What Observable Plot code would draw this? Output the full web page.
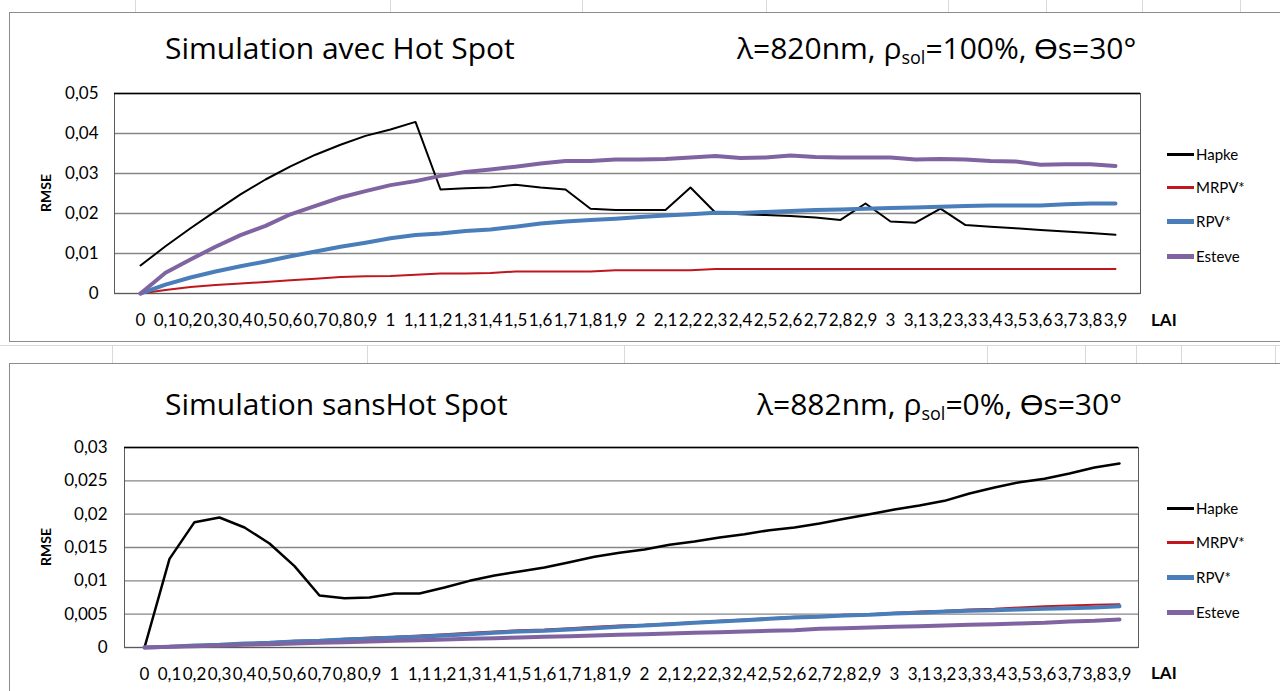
<!DOCTYPE html>
<html><head><meta charset="utf-8">
<script src="https://cdn.jsdelivr.net/npm/d3@7"></script>
<script src="https://cdn.jsdelivr.net/npm/@observablehq/plot@0.6"></script>
<style>
body{margin:0;background:#fff;font-family:Lato,"Open Sans",sans-serif;}
#root{position:relative;width:1280px;height:691px;overflow:hidden;background:#fff;}
.panel{position:absolute;border:1px solid #8c8c8c;}
.gl{position:absolute;background:#d9d9d9;}
.title{position:absolute;font-family:"Open Sans",sans-serif;font-size:30px;color:#000;white-space:nowrap;line-height:1;transform:translateY(-50%);}
.title sub{font-size:60%;vertical-align:-0.25em;line-height:0;}
.ylab{position:absolute;font-weight:bold;font-size:14px;white-space:nowrap;transform:translate(-50%,-50%) rotate(-90deg);}
.lai{position:absolute;font-weight:bold;font-size:17px;transform:translateY(-50%);}
.leg{position:absolute;font-size:15px;display:flex;align-items:center;transform:translateY(-50%);white-space:nowrap;}
.leg span.sw{display:inline-block;width:27px;margin-right:2px;}
</style></head><body><div id="root"></div>
<script>
// ---- categories (LAI tick labels)
const lai = ["0","0,1","0,2","0,3","0,4","0,5","0,6","0,7","0,8","0,9",
             "1","1,1","1,2","1,3","1,4","1,5","1,6","1,7","1,8","1,9",
             "2","2,1","2,2","2,3","2,4","2,5","2,6","2,7","2,8","2,9",
             "3","3,1","3,2","3,3","3,4","3,5","3,6","3,7","3,8","3,9"];
const models = ["Hapke","MRPV*","RPV*","Esteve"];
const colors = ["#000000","#c0161e","#4a7ebb","#8064a2"];

// ---- panel 1 : Simulation avec Hot Spot
const hapke1 = [0.0070,0.0118,0.0163,0.0206,0.0248,0.0285,0.0318,0.0347,0.0372,0.0394,
                0.0410,0.0429,0.0260,0.0263,0.0265,0.0272,0.0265,0.0260,0.0212,0.0209,
                0.0209,0.0209,0.0265,0.0202,0.0198,0.0196,0.0194,0.0190,0.0184,0.0225,
                0.0180,0.0177,0.0212,0.0171,0.0167,0.0163,0.0159,0.0155,0.0151,0.0147];
const mrpv1  = [0,0.0009,0.0016,0.0021,0.0025,0.0029,0.0033,0.0037,0.0041,0.0043,
                0.0044,0.0047,0.0050,0.0050,0.0051,0.0055,0.0055,0.0055,0.0055,0.0058,
                0.0058,0.0058,0.0058,0.0061,0.0061,0.0061,0.0061,0.0061,0.0061,0.0061,
                0.0061,0.0061,0.0061,0.0061,0.0061,0.0061,0.0061,0.0061,0.0061,0.0061];
const rpv1   = [0,0.0022,0.0040,0.0055,0.0068,0.0080,0.0093,0.0105,0.0117,0.0127,
                0.0138,0.0146,0.0150,0.0156,0.0160,0.0167,0.0175,0.0180,0.0184,0.0187,
                0.0191,0.0195,0.0198,0.0202,0.0201,0.0204,0.0206,0.0209,0.0210,0.0212,
                0.0214,0.0215,0.0217,0.0219,0.0220,0.0220,0.0220,0.0223,0.0225,0.0225];
const esteve1= [0,0.0052,0.0085,0.0117,0.0146,0.0169,0.0198,0.0219,0.0240,0.0256,
                0.0271,0.0281,0.0294,0.0304,0.0310,0.0317,0.0325,0.0331,0.0331,0.0335,
                0.0335,0.0336,0.0340,0.0344,0.0339,0.0340,0.0345,0.0341,0.0340,0.0340,
                0.0340,0.0335,0.0336,0.0335,0.0331,0.0330,0.0322,0.0323,0.0323,0.0319];
const yTicks1 = [0,0.01,0.02,0.03,0.04,0.05];

// ---- panel 2 : Simulation sans Hot Spot
const hapke2 = [0,0.0133,0.0188,0.0195,0.0180,0.0156,0.0122,0.0078,0.0074,0.0075,
                0.0081,0.0081,0.0090,0.0100,0.0108,0.0114,0.0120,0.0128,0.0136,0.0142,
                0.0147,0.0154,0.0159,0.0165,0.0170,0.0176,0.0180,0.0186,0.0193,0.0200,
                0.0207,0.0213,0.0220,0.0231,0.0240,0.0248,0.0253,0.0261,0.0270,0.0276];
const mrpv2  = [0,0.0002,0.0003,0.0005,0.0006,0.0008,0.0010,0.0011,0.0013,0.0015,
                0.0016,0.0018,0.0020,0.0022,0.0024,0.0026,0.0027,0.0029,0.0031,0.0033,
                0.0034,0.0036,0.0038,0.0040,0.0042,0.0044,0.0046,0.0047,0.0049,0.0050,
                0.0052,0.0054,0.0055,0.0057,0.0058,0.0060,0.0062,0.0063,0.0064,0.0065];
const rpv2   = [0,0.0001,0.0003,0.0004,0.0006,0.0007,0.0009,0.0010,0.0012,0.0013,
                0.0015,0.0016,0.0018,0.0020,0.0022,0.0024,0.0025,0.0027,0.0029,0.0031,
                0.0033,0.0035,0.0037,0.0039,0.0041,0.0043,0.0045,0.0046,0.0048,0.0049,
                0.0051,0.0052,0.0054,0.0055,0.0056,0.0057,0.0058,0.0059,0.0060,0.0062];
const esteve2= [0,0.0001,0.0002,0.0003,0.0004,0.0005,0.0006,0.0007,0.0008,0.0009,
                0.0010,0.0011,0.0012,0.0013,0.0014,0.0015,0.0016,0.0017,0.0018,0.0019,
                0.0020,0.0021,0.0022,0.0023,0.0024,0.0025,0.0026,0.0028,0.0029,0.0030,
                0.0031,0.0032,0.0033,0.0034,0.0035,0.0036,0.0037,0.0039,0.0040,0.0042];
const yTicks2 = [0,0.005,0.01,0.015,0.02,0.025,0.03];

const root = document.getElementById("root");
function el(cls, css, html){const d=document.createElement("div"); d.className=cls; Object.assign(d.style, css); if(html!=null) d.innerHTML=html; root.appendChild(d); return d;}

// faint spreadsheet grid + chart frames
[135,390,582,766,948,1046,1142,1240].forEach(x=>el("gl",{left:x+"px",top:"0px",width:"1px",height:"12px"}));
[112,367,624,987,1085,1136,1181,1275].forEach(x=>el("gl",{left:x+"px",top:"346px",width:"1px",height:"17px"}));
el("gl",{left:"0px",top:"345px",width:"1280px",height:"1px"});
el("panel",{left:"9px",top:"12px",width:"1290px",height:"328px"});
el("panel",{left:"9px",top:"363px",width:"1290px",height:"340px"});

const fmt = d => d===0 ? "0" : String(+d.toFixed(3)).replace(".", ",");

function panel(cfg){
  const series=[cfg.hapke,cfg.mrpv,cfg.rpv,cfg.esteve];
  const data = models.flatMap((m,k)=> series[k].map((v,i)=>({lai:lai[i], v, model:m})));
  const svg = Plot.plot({
    width:1280, height:cfg.h,
    marginLeft:cfg.ml, marginRight:1280-cfg.xr, marginTop:cfg.mt, marginBottom:cfg.mb,
    style:{fontFamily:"Lato, 'Open Sans', sans-serif", fontSize:"17px", color:"#000", background:"transparent", overflow:"visible"},
    x:{type:"point", domain:lai, padding:0.5, label:null},
    y:{domain:[0,cfg.ymax], label:null},
    marks:[
      Plot.ruleY(cfg.yticks, {stroke:"#868686", strokeWidth:1.3}),
      Plot.frame({stroke:"#5a5a5a"}),
      Plot.ruleY([cfg.ymax], {stroke:"#000", strokeWidth:1.5}),
      Plot.axisY({ticks:cfg.yticks, tickFormat:fmt, tickSize:0, tickPadding:cfg.ypad, fontSize:17, label:null}),
      Plot.axisX({tickSize:0, tickPadding:cfg.xpad, fontSize:17, label:null}),
      ...models.map((m,k)=> Plot.lineY(data.filter(d=>d.model===m),
          {x:"lai", y:"v", stroke:colors[k], strokeWidth:cfg.widths[k], strokeLinejoin:"round", strokeLinecap:"round"}))
    ]
  });
  svg.style.position="absolute"; svg.style.left="0px"; svg.style.top=cfg.top+"px";
  root.appendChild(svg);

  el("title",{left:"165px",top:cfg.ty+"px"}, cfg.title);
  el("title",{left:cfg.rx+"px",top:cfg.ty+"px"}, cfg.rtitle);
  el("ylab",{left:"45px",top:cfg.ylabY+"px"}, "RMSE");
  el("lai",{left:"1151px",top:cfg.laiY+"px"}, "LAI");
  models.forEach((m,k)=>{
    el("leg",{left:"1167px",top:cfg.legY[k]+"px"},
      `<span class="sw" style="height:${cfg.legW[k]}px;background:${colors[k]}"></span>${m}`);
  });
}

panel({top:40,h:300,mt:53,mb:47,ml:114,xr:1140,ymax:0.05,yticks:yTicks1,ypad:16,xpad:20,
  hapke:hapke1,mrpv:mrpv1,rpv:rpv1,esteve:esteve1,widths:[2,2,4,4],
  title:"Simulation avec Hot Spot", rtitle:"λ=820nm, ρ<sub>sol</sub>=100%, ϴs=30°", rx:737, ty:48,
  ylabY:193, laiY:319, legY:[154,187,221,256], legW:[3,3,5,5]});
panel({top:400,h:291,mt:47,mb:44,ml:124,xr:1138,ymax:0.03,yticks:yTicks2,ypad:17,xpad:20,
  hapke:hapke2,mrpv:mrpv2,rpv:rpv2,esteve:esteve2,widths:[2.5,2,4,4],
  title:"Simulation sansHot Spot", rtitle:"λ=882nm, ρ<sub>sol</sub>=0%, ϴs=30°", rx:757, ty:404,
  ylabY:547, laiY:672, legY:[508,542,577,612], legW:[3,3,5,5]});
</script></body></html>
